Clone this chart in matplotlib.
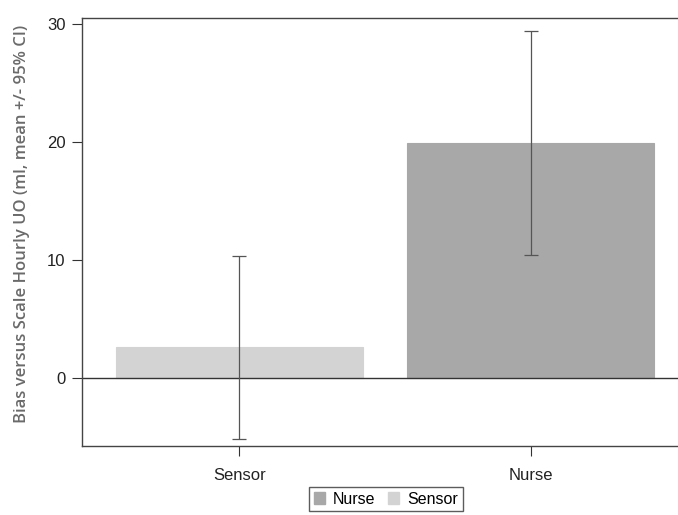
import matplotlib
matplotlib.use('Agg')
import matplotlib.pyplot as plt
from matplotlib.patches import Patch

# Data
groups = ['Sensor', 'Nurse']
means = [2.6, 19.9]
ciLow = [-5.15, 10.45]
ciHigh = [10.3, 29.4]
barColors = {'Sensor': '#d3d3d3', 'Nurse': '#a8a8a8'}
legendOrder = ['Nurse', 'Sensor']

plt.rcParams['font.family'] = ['Liberation Sans', 'DejaVu Sans']

W, H = 678, 515
fig = plt.figure(figsize=(W / 100, H / 100), dpi=100)
ax = fig.add_axes([82 / W, (H - 446) / H, (688 - 82) / W, (446 - 18) / H])

x = range(len(groups))
errLow = [m - l for m, l in zip(means, ciLow)]
errHigh = [h - m for m, h in zip(means, ciHigh)]
ax.bar(x, means, 0.85, color=[barColors[g] for g in groups],
       edgecolor=[barColors[g] for g in groups], linewidth=0.8, zorder=1)
ax.errorbar(x, means, yerr=[errLow, errHigh], fmt='none', ecolor='#555555',
            elinewidth=0.9, capsize=5, capthick=0.9, zorder=3)
ax.axhline(0, color='#333333', linewidth=1.0, zorder=2)

ax.set_xlim(-0.54, 1.54)
ax.set_ylim(-5.75, 30.5)
ax.set_yticks([0, 10, 20, 30])
ax.set_xticks(list(x))
ax.set_xticklabels(groups)
ax.tick_params(axis='both', direction='out', length=7, width=0.8, color='#333333',
               labelsize=12, labelcolor='#222222', pad=5)
ax.tick_params(axis='x', pad=9)
for s in ax.spines.values():
    s.set_color('#444444')
    s.set_linewidth(1.0)
ax.spines['right'].set_visible(False)

ax.set_ylabel('Bias versus Scale Hourly UO (ml, mean +/- 95% CI)',
              fontsize=12, color='#6a6a6a', fontweight='semibold',
              family='Open Sans')
ax.yaxis.set_label_coords(-0.085, 0.52)

handles = [Patch(facecolor=barColors[g], edgecolor=barColors[g], label=g) for g in legendOrder]
leg = fig.legend(handles=handles, loc='center', bbox_to_anchor=(386 / W, 1 - 499 / H),
                 ncol=2, fontsize=11.5, frameon=True, fancybox=False,
                 handlelength=0.7, handleheight=0.7, handletextpad=0.5,
                 columnspacing=0.8, borderpad=0.3)
leg.get_frame().set_edgecolor('#333333')
leg.get_frame().set_linewidth(1.0)

fig.savefig('out.png', dpi=100)
